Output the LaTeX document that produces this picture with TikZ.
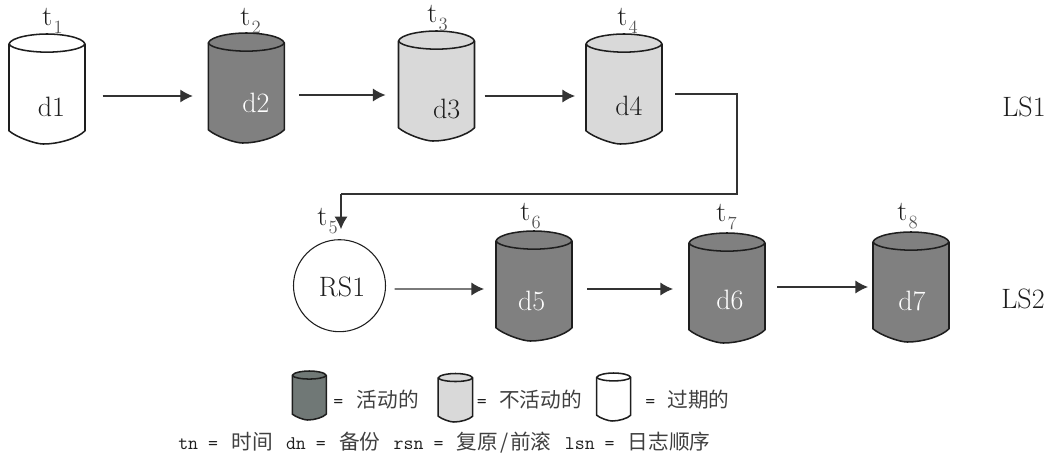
\documentclass[tikz,border=0pt]{standalone}
\usepackage{fontspec}
\newfontfamily\cjk{Noto Sans CJK SC}
\usetikzlibrary{arrows.meta,calc}
\definecolor{dark}{HTML}{808080}
\definecolor{legdark}{HTML}{707876}
\definecolor{lite}{HTML}{D9D9D9}
\definecolor{ink}{HTML}{1E1E1E}
\definecolor{wire}{HTML}{333333}
\tikzset{
  x=0.75pt,y=-0.75pt,
  conn/.style={draw=wire,line width=0.95pt,-{Latex[length=9.4pt,width=9.8pt]}},
  wireonly/.style={draw=wire,line width=0.95pt},
  cylbody/.style={draw=ink,line width=1.15pt,line join=round},
  cylbox/.style={inner sep=0pt,outer sep=0pt,minimum width=76*0.75pt,minimum height=110*0.75pt},
  biglab/.style={font=\fontsize{21}{23}\selectfont,inner sep=0pt,anchor=base,text=ink},
  inlab/.style={biglab,text=white},
  tlab/.style={font=\fontsize{21}{23}\selectfont,inner sep=0pt,anchor=base west,text=ink},
  legtxt/.style={font=\ttfamily\fontsize{14.5}{16}\selectfont,inner sep=0pt,anchor=base west,text=ink},
  rsnode/.style={circle,draw=ink,line width=0.8pt,minimum size=69pt,inner sep=0pt},
}
% left, top, width, height, fill
\newcommand{\cylshape}[5]{%
  \begin{scope}[shift={(#1,#2)},xscale=#3,yscale=#4]
    \path[cylbody,fill=#5] (0,.09) .. controls (.03,.03) and (.3,0) .. (.5,0)
      .. controls (.7,0) and (.97,.03) .. (1,.09) -- (1,.88)
      .. controls (.9,.95) and (.65,1) .. (.45,1)
      .. controls (.35,1) and (.1,.94) .. (0,.88) -- cycle;
    \path[cylbody] (0,.09) .. controls (.03,.14) and (.3,.165) .. (.5,.165)
      .. controls (.7,.165) and (.97,.14) .. (1,.09);
  \end{scope}}
% name, left, top, fill
\newcommand{\diskat}[4]{%
  \cylshape{#2}{#3}{76}{110}{#4}
  \node[cylbox] (#1) at ({#2+38},{#3+55}) {};}
% name, x, baseline, digit
\newcommand{\tmark}[4]{%
  \node[tlab] (#1) at (#2,#3) {t\kern1pt\raisebox{-6pt}{\fontsize{14}{15}\selectfont\color{ink!75}#4}};}
\newcommand{\cj}[1]{\hspace{2.5pt}{\cjk\fontsize{15.5}{16}\selectfont\color{ink!85}#1}\hspace{2.5pt}}
\begin{document}
\begin{tikzpicture}
\useasboundingbox (0,0) rectangle (1047,454);
\diskat{c1}{9}{34}{white}
\diskat{c2}{208.3}{33}{dark}
\diskat{c3}{398.5}{31}{lite}
\diskat{c4}{586}{34}{lite}
\diskat{c5}{496}{231}{dark}
\diskat{c6}{689}{233}{dark}
\diskat{c7}{873}{232}{dark}
\node[rsnode] (rs) at (339.5,285.7) {};

\node[biglab] (d1) at (51.5,116.5) {d1};
\node[inlab] (d2) at (256,112) {d2};
\node[biglab] (d3) at (446.7,118) {d3};
\node[biglab] (d4) at (629,115) {d4};
\node[inlab] (d5) at (531.7,310) {d5};
\node[inlab] (d6) at (730,309) {d6};
\node[inlab] (d7) at (912,310) {d7};
\node[biglab] (rslab) at (342,296.7) {RS1};
\node[biglab] (ls1) at (1024,116) {LS1};
\node[biglab] (ls2) at (1023,308) {LS2};

\tmark{t1}{42}{25}{1}
\tmark{t2}{240}{25}{2}
\tmark{t3}{427}{22}{3}
\tmark{t4}{617}{25}{4}
\tmark{t5}{317}{225}{5}
\tmark{t6}{520}{220}{6}
\tmark{t7}{716}{221}{7}
\tmark{t8}{897}{220}{8}

\draw[conn] ($(c1.east)+(17.5,7)$) -- ($(c2.west)+(-15.5,8)$);
\draw[conn] ($(c2.east)+(15,7)$) -- ($(c3.west)+(-13,9)$);
\draw[conn] ($(c3.east)+(10,10)$) -- ($(c4.west)+(-11,7)$);
\coordinate (bend) at (737,194);
\coordinate (rsin) at ($(rs.north)+(1.5,-10)$);
\draw[wireonly] ($(c4.east)+(13,5)$) -| (bend) -- (bend -| rsin);
\draw[conn] (bend -| rsin) -- (rsin);
\draw[conn] ($(rs.east)+(8.5,3.3)$) -- ($(c5.west)+(-12,3)$);
\draw[conn] ($(c5.east)+(15,3)$) -- ($(c6.west)+(-16,1)$);
\draw[conn] ($(c6.east)+(12,-1)$) -- ($(c7.west)+(-5,0)$);

\cylshape{292.3}{371}{34}{49}{legdark}
\cylshape{438.2}{373.5}{34.5}{48.5}{lite}
\cylshape{596.7}{373}{34}{48}{white}
\node[legtxt] (k1) at (333,407) {=\kern7.7pt\cj{活动的}};
\node[legtxt] (k2) at (476.7,407) {=\kern6.7pt\cj{不活动的}};
\node[legtxt] (k3) at (645,407) {=\kern6.7pt\cj{过期的}};
\node[legtxt] (kk) at (178,449) {tn = \cj{时间} dn = \cj{备份} rsn = \cj{复原{\kern1.5pt/\kern1.5pt}前滚} lsn = \cj{日志顺序}};
\end{tikzpicture}
\end{document}
